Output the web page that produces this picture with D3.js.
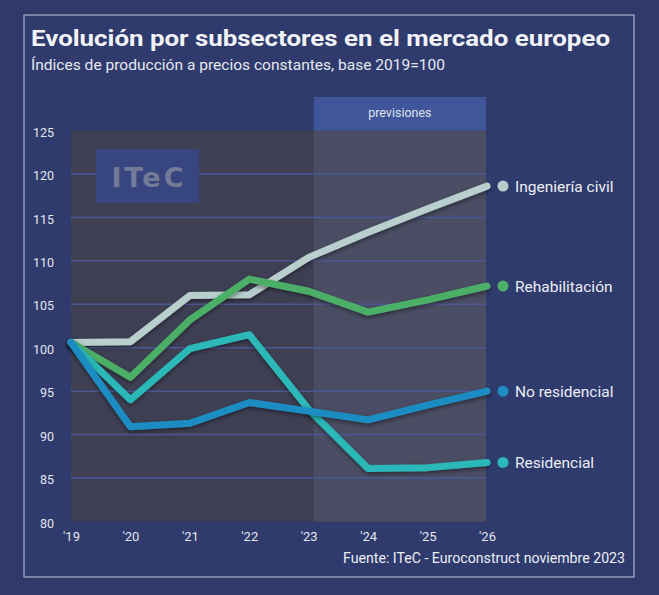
<!DOCTYPE html>
<html><head><meta charset="utf-8">
<script src="https://cdn.jsdelivr.net/npm/d3@7"></script>
<style>html,body{margin:0;padding:0;background:#2f3a6b;}svg{display:block;}</style>
</head><body>
<script>
const years = ["'19","'20","'21","'22","'23","'24","'25","'26"];
const yTicks = [80,85,90,95,100,105,110,115,120,125];
const ingenieriaCivil = [100.6,100.7,106.0,106.1,110.4,113.3,116.0,118.6];
const rehabilitacion = [100.6,96.6,103.2,107.9,106.5,104.1,105.5,107.1];
const noResidencial = [100.6,90.9,91.3,93.7,92.7,91.7,93.4,95.0];
const residencial = [100.6,94.0,99.9,101.5,92.9,86.1,86.2,86.8];
const seriesNames = ["Ingeniería civil","Rehabilitación","No residencial","Residencial"];
const seriesColors = ["#b9cfcd","#4caf68","#1f8dc2","#2bb8b8"];
const seriesValues = [ingenieriaCivil, rehabilitacion, noResidencial, residencial];
const forecastStart = "'23";

const W=659,H=595;
const svg=d3.select("body").append("svg").attr("width",W).attr("height",H);
svg.append("rect").attr("width",W).attr("height",H).attr("fill","#2f3a6b");
svg.append("rect").attr("x",24).attr("y",15).attr("width",610).attr("height",562)
  .attr("fill","#2f3b6c").attr("stroke","#aab2cf").attr("stroke-width",1.2);

svg.append("text").attr("x",31).attr("y",46).attr("fill","#f2f3f7")
  .attr("font-family","Roboto, 'Noto Sans', sans-serif").attr("font-weight",700)
  .attr("font-size",22).attr("textLength",579).attr("lengthAdjust","spacingAndGlyphs")
  .text("Evolución por subsectores en el mercado europeo");
svg.append("text").attr("x",31).attr("y",70).attr("fill","#e6e8f0")
  .attr("font-family","Roboto, 'Noto Sans', sans-serif")
  .attr("font-size",14.5).attr("textLength",414).attr("lengthAdjust","spacingAndGlyphs")
  .text("Índices de producción a precios constantes, base 2019=100");

const x=d3.scalePoint().domain(years).range([71,487]);
const y=d3.scaleLinear().domain([80,125]).range([521.5,130.5]);
const plotL=71, plotR=486, plotT=130.5, plotB=521.5;
const fx = x(forecastStart)+5;

svg.append("rect").attr("x",plotL).attr("y",plotT).attr("width",plotR-plotL).attr("height",plotB-plotT).attr("fill","#3e3f53");
svg.append("rect").attr("x",fx).attr("y",plotT).attr("width",plotR-fx).attr("height",plotB-plotT).attr("fill","#4a4d63");
svg.append("rect").attr("x",fx).attr("y",97).attr("width",plotR-fx).attr("height",plotT-97).attr("fill","#40559a");
svg.append("text").attr("x",(fx+plotR)/2).attr("y",117).attr("text-anchor","middle")
  .attr("fill","#dfe3f0").attr("font-family","Roboto, sans-serif").attr("font-size",12.5).text("previsiones");

// gridlines
svg.append("g").selectAll("line").data(yTicks.filter(d=>d>80&&d<125)).join("line")
  .attr("x1",plotL).attr("x2",plotR).attr("y1",d=>y(d)).attr("y2",d=>y(d))
  .attr("stroke","#4c5896").attr("stroke-width",1.5);

// logo
svg.append("rect").attr("x",96).attr("y",149).attr("width",103).attr("height",54).attr("fill","#38467f");
svg.append("text").attr("x",149).attr("y",187).attr("text-anchor","middle").attr("fill","#737b98")
  .attr("font-family","'DejaVu Sans', sans-serif").attr("font-weight",700).attr("font-size",27)
  .attr("letter-spacing",3).text("ITeC");

// axes
const yAxis=svg.append("g").attr("transform","translate(54,0)")
  .call(d3.axisLeft(y).tickValues(yTicks).tickSize(0).tickPadding(0));
yAxis.select(".domain").remove();
yAxis.selectAll("text").attr("fill","#e3e5ee").attr("font-family","Roboto, 'Liberation Sans', sans-serif").attr("font-size",12.5).attr("dy","0.45em");
const xAxis=svg.append("g").attr("transform","translate(0,529)")
  .call(d3.axisBottom(x).tickSize(0).tickPadding(0));
xAxis.select(".domain").remove();
xAxis.selectAll("text").attr("fill","#e3e5ee").attr("font-family","Roboto, 'Liberation Sans', sans-serif").attr("font-size",13).attr("dy","0.95em");

// shadow filter
const defs=svg.append("defs");
const f=defs.append("filter").attr("id","sh").attr("x","-10%").attr("y","-10%").attr("width","120%").attr("height","130%");
f.append("feDropShadow").attr("dx",0).attr("dy",2).attr("stdDeviation",2).attr("flood-color","#000").attr("flood-opacity",0.45);

const line=d3.line().x((d,i)=>x(years[i])).y(d=>y(d));
const order=[0,1,3,2];
order.forEach(k=>{
  svg.append("path").datum(seriesValues[k]).attr("d",line).attr("fill","none")
    .attr("stroke",seriesColors[k]).attr("stroke-width",7).attr("stroke-linejoin","round").attr("stroke-linecap","round")
    .attr("filter","url(#sh)");
});
seriesValues.forEach((v,k)=>{
  const last=v[v.length-1];
  svg.append("circle").attr("cx",503).attr("cy",y(last)).attr("r",5.5).attr("fill",seriesColors[k]);
  svg.append("text").attr("x",515).attr("y",y(last)).attr("dy","0.36em").attr("fill","#eceef5")
    .attr("font-family","Roboto, 'Noto Sans', sans-serif").attr("font-size",15.5).text(seriesNames[k]);
});

svg.append("text").attr("x",625).attr("y",563).attr("text-anchor","end").attr("fill","#eceef5")
  .attr("font-family","Roboto, 'Noto Sans', sans-serif").attr("font-size",14)
  .attr("textLength",282).attr("lengthAdjust","spacingAndGlyphs").text("Fuente: ITeC - Euroconstruct noviembre 2023");
</script>
</body></html>
